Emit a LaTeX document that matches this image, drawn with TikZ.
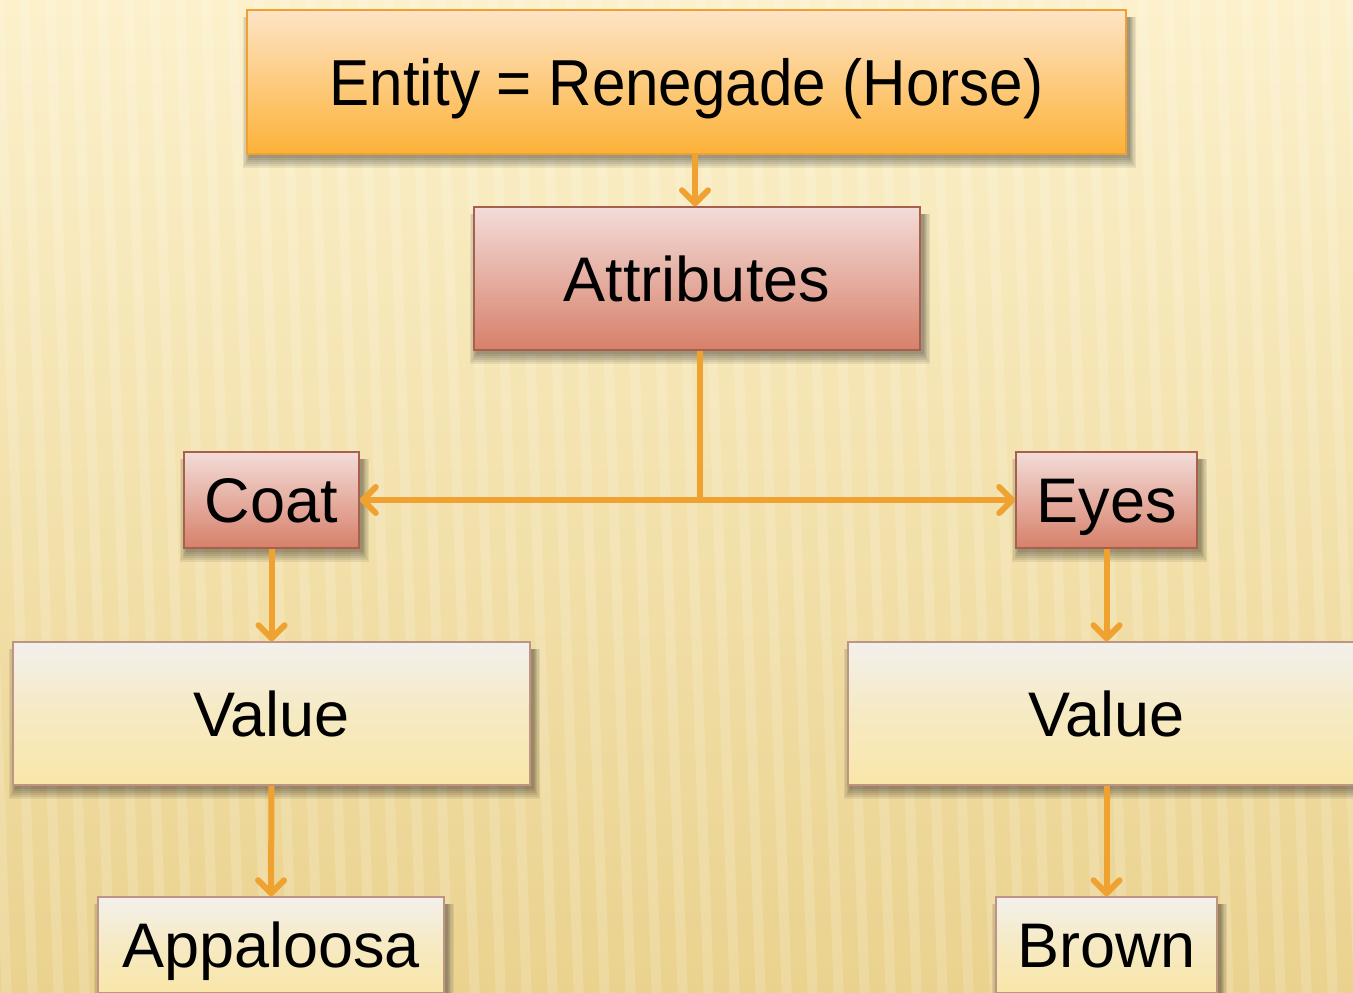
\documentclass[tikz,border=0pt]{standalone}
\usepackage{fontspec}
\setmainfont{Liberation Sans}
\usetikzlibrary{arrows.meta}
\definecolor{bgtop}{HTML}{FCF1CC}
\definecolor{bgbot}{HTML}{EAD28E}
\definecolor{entA}{HTML}{FDE4C6}
\definecolor{entB}{HTML}{FDB238}
\definecolor{entL}{HTML}{F0A030}
\definecolor{attA}{HTML}{F3DCD8}
\definecolor{attB}{HTML}{D7806A}
\definecolor{attL}{HTML}{A8604E}
\definecolor{valA}{HTML}{F2F0EC}
\definecolor{valB}{HTML}{F9E6A8}
\definecolor{valL}{HTML}{C09484}
\definecolor{arrowc}{HTML}{EFA22F}
\pgfdeclarelayer{bg}
\pgfdeclarelayer{shad}
\pgfsetlayers{bg,shad,main}
\tikzset{
  box/.style={draw, line width=1.5pt, inner sep=0pt, text height=45pt, text depth=0pt,
    font=\fontsize{63}{70}\selectfont},
  entbox/.style={box, top color=entA, bottom color=entB, draw=entL},
  attbox/.style={box, top color=attA, bottom color=attB, draw=attL},
  valbox/.style={box, top color=valA, bottom color=valB, middle color=valB!60!valA, draw=valL},
  shadowpiece/.style={fill=black, opacity=0.07},
  conn/.style={draw=arrowc, line width=6pt},
  arr/.style={conn, -{Straight Barb[length=13pt,width=26pt,line cap=round,line join=round]}}
}
\begin{document}
\begin{tikzpicture}[x=1pt,y=-1pt]
\useasboundingbox (0,0) rectangle (1353,993);
\clip (0,0) rectangle (1353,993);
\node[entbox, minimum width=879pt, minimum height=144pt, text height=47pt,
  font=\fontsize{65}{72}\selectfont] (ent) at (686.5,82) {\scalebox{0.925}[1]{Entity = Renegade (Horse)}};
\node[attbox, minimum width=446pt, minimum height=143pt] (att) at (697,278.5) {Attributes};
\node[attbox, minimum width=175pt, minimum height=96pt] (coat) at (271.5,500) {Coat};
\node[attbox, minimum width=181pt, minimum height=96pt] (eyes) at (1106.5,500) {Eyes};
\node[valbox, minimum width=517pt, minimum height=143pt] (val1) at (271.5,713.5) {Value};
\node[valbox, minimum width=517pt, minimum height=143pt] (val2) at (1106.5,713.5) {Value};
\node[valbox, minimum width=346pt, minimum height=96pt] (app) at (271,945) {Appaloosa};
\node[valbox, minimum width=221pt, minimum height=96pt] (brown) at (1106.5,945) {Brown};
\begin{pgfonlayer}{bg}
\fill[top color=bgtop, bottom color=bgbot] (0,0) rectangle (1353,993);
\foreach \i in {0,...,58} {
  \draw[white, opacity=0.16, line width=10pt] ({\i*26-80},-10) -- ({\i*26-45},1003);
}
\end{pgfonlayer}
\begin{pgfonlayer}{shad}
\foreach \n in {ent,att,coat,eyes,val1,val2,app,brown} {
  \foreach \e in {0,2,4,6,8,10} {
    \fill[shadowpiece] ([shift={(3-0.6*\e,8)}]\n.north west) rectangle ([shift={(3+0.6*\e,3+\e)}]\n.south east);
  }
}
\end{pgfonlayer}
\draw[arr] (ent.south -| att.north) ++(-2,0) coordinate (e1) -- (e1 |- att.north);
\coordinate (a1) at ([xshift=3pt]att.south);
\coordinate (j) at (a1 |- coat.east);
\draw[conn] (a1) -- (j);
\draw[arr] (j) -- (coat.east);
\draw[arr] (j) -- (eyes.west);
\draw[arr] (coat.south) -- (val1.north);
\draw[arr] (eyes.south) -- (val2.north);
\draw[arr] (val1.south) -- (app.north);
\draw[arr] (val2.south) -- (brown.north);
\end{tikzpicture}
\end{document}
